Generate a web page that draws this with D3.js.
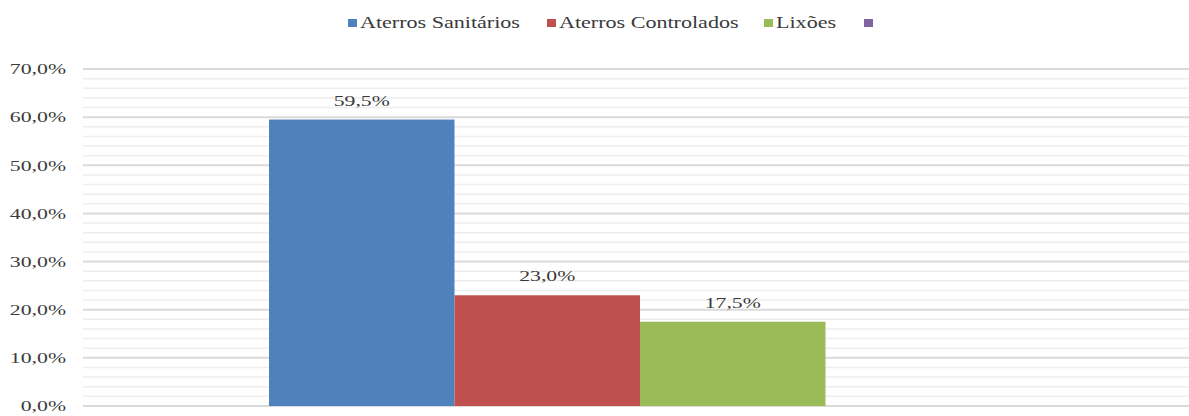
<!DOCTYPE html>
<html>
<head>
<meta charset="utf-8">
<script src="https://cdn.jsdelivr.net/npm/d3@7"></script>
<style>
  html, body { margin: 0; padding: 0; background: #fff; }
  svg { display: block; }
  text { font-family: "Liberation Serif", "Times New Roman", serif; fill: #3a3a3a; }
</style>
</head>
<body>
<svg id="chart" width="1189" height="416"></svg>
<script>
// Destination of urban solid waste (share of total)
const categories = ["Destino"];
const seriesNames = ["Aterros Sanitários", "Aterros Controlados", "Lixões", ""];
const seriesValues = [59.5, 23.0, 17.5, null];
const seriesColors = ["#4f81bd", "#c0504d", "#9bbb59", "#8064a2"];
const yTicks = [0, 10, 20, 30, 40, 50, 60, 70];
const yMinorTicks = d3.range(0, 70.001, 2);

const W = 1189, H = 416;
const margin = { left: 83, right: -8, top: 69, bottom: 10 };
const SX = 1.45; // horizontal text stretch
const fmt = v => v.toFixed(1).replace(".", ",") + "%";

const svg = d3.select("#chart");

const x0 = d3.scaleBand()
  .domain(categories)
  .range([margin.left, W - margin.right])
  .paddingInner(0)
  .paddingOuter(0.2507);

const x1 = d3.scaleBand()
  .domain(d3.range(seriesNames.length))
  .range([0, x0.bandwidth()])
  .padding(0);

const y = d3.scaleLinear()
  .domain([0, 70])
  .range([H - margin.bottom, margin.top]);

// minor gridlines
svg.append("g")
  .selectAll("line")
  .data(yMinorTicks.filter(v => v % 10 !== 0))
  .join("line")
  .attr("x1", margin.left).attr("x2", W - margin.right)
  .attr("y1", d => y(d)).attr("y2", d => y(d))
  .attr("stroke", "#eeeeee").attr("stroke-width", 1.5);

// major gridlines
svg.append("g")
  .selectAll("line")
  .data(yTicks)
  .join("line")
  .attr("x1", margin.left).attr("x2", W - margin.right)
  .attr("y1", d => y(d)).attr("y2", d => y(d))
  .attr("stroke", "#dadada").attr("stroke-width", 2);

// y axis labels
const yAxis = d3.axisLeft(y).tickValues(yTicks).tickFormat(fmt).tickSize(0).tickPadding(0);
const yg = svg.append("g").attr("transform", `translate(${margin.left - 17},0)`).call(yAxis);
yg.select(".domain").remove();
yg.selectAll("text")
  .attr("font-size", 15)
  .attr("fill", "#3a3a3a")
  .attr("font-family", "Liberation Serif, serif")
  .attr("dy", "0.32em")
  .attr("x", 0)
  .attr("transform", `scale(${SX},1)`);

// bars
const rows = seriesValues.map((v, i) => ({ i, v, name: seriesNames[i], color: seriesColors[i] }))
  .filter(d => d.v != null);

const g = svg.append("g").attr("transform", `translate(${x0(categories[0])},0)`);
g.selectAll("rect")
  .data(rows)
  .join("rect")
  .attr("x", d => x1(d.i))
  .attr("width", x1.bandwidth())
  .attr("y", d => y(d.v))
  .attr("height", d => y(0) - y(d.v))
  .attr("fill", d => d.color);

// value labels
g.selectAll("text.val")
  .data(rows)
  .join("text")
  .attr("class", "val")
  .attr("text-anchor", "middle")
  .attr("font-size", 15)
  .attr("transform", d => `translate(${x1(d.i) + x1.bandwidth() / 2},${y(d.v) - 14}) scale(${SX},1)`)
  .text(d => fmt(d.v));

// legend
const legendX = [348, 547, 764, 864];
const legendItems = seriesNames.map((name, i) => ({ name, color: seriesColors[i], x: legendX[i] }));
const li = svg.append("g").selectAll("g").data(legendItems).join("g")
  .attr("transform", d => `translate(${d.x},0)`);
li.append("rect").attr("x", 0).attr("y", 19).attr("width", 9).attr("height", 8)
  .attr("fill", d => d.color);
li.append("text")
  .attr("font-size", 16)
  .attr("transform", `translate(12,28) scale(1.38,1)`)
  .text(d => d.name);
</script>
</body>
</html>
